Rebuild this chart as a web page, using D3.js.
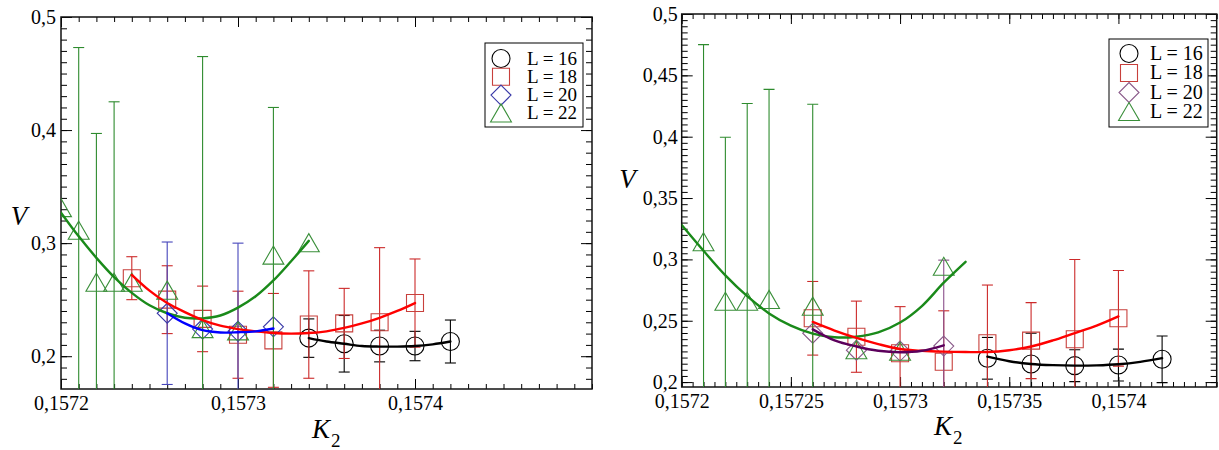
<!DOCTYPE html>
<html><head><meta charset="utf-8">
<script src="https://cdn.jsdelivr.net/npm/d3@7"></script>
<style>
body{margin:0;background:#fff}
svg{display:block}
text{font-family:"Liberation Serif","Times New Roman",serif}
</style>
</head><body>
<svg id="c" width="1219" height="450"></svg>
<script>
// ---------------- DATA ----------------
// Left panel
const leftL16K = [0.15734,0.15736,0.15738,0.1574,0.15742];
const leftL16V = [0.216,0.211,0.209,0.209,0.213];
const leftL16E = [0.017,0.025,0.014,0.013,0.019];

const leftL18K = [0.15724,0.15726,0.15728,0.1573,0.15732,0.15734,0.15736,0.15738,0.1574];
const leftL18V = [0.269,0.250,0.233,0.219,0.214,0.228,0.229,0.230,0.247];
const leftL18E = [0.019,0.030,0.029,0.0385,0.0415,0.0475,0.031,0.066,0.039];

const leftL20K = [0.15726,0.15728,0.1573,0.15732];
const leftL20V = [0.238,0.224,0.222,0.226];
const leftL20E = [0.063,0,0.078,0];

const leftL22K = [0.1572,0.15721,0.15722,0.15723,0.15724,0.15726,0.15728,0.1573,0.15732,0.15734];
const leftL22V = [0.331,0.311,0.265,0.265,0.265,0.258,0.224,0.222,0.289,0.300];
const leftL22E = [0,0.162,0.132,0.16,0,0,0.241,0,0.131,0];

const leftFit22K = [0.1572,0.15721,0.15722,0.15723,0.15724,0.15725,0.15726,0.15727,0.15728,0.15729,0.1573,0.15731,0.15732,0.15733,0.15734];
const leftFit22V = [0.327,0.306,0.287,0.270,0.256,0.245,0.238,0.234,0.2335,0.236,0.243,0.253,0.267,0.284,0.302];
const leftFit18K = [0.15724,0.15725,0.15726,0.15727,0.15728,0.15729,0.1573,0.15731,0.15732,0.15733,0.15734,0.15735,0.15736,0.15737,0.15738,0.15739,0.1574];
const leftFit18V = [0.272,0.258,0.247,0.239,0.232,0.227,0.224,0.222,0.2205,0.220,0.2205,0.222,0.225,0.229,0.234,0.240,0.247];
const leftFit20K = [0.15726,0.15727,0.15728,0.15729,0.1573,0.15731,0.15732];
const leftFit20V = [0.238,0.229,0.223,0.221,0.2212,0.222,0.2245];
const leftFit16K = [0.15734,0.15735,0.15736,0.15737,0.15738,0.15739,0.1574,0.15741,0.15742];
const leftFit16V = [0.216,0.213,0.211,0.209,0.2085,0.2085,0.209,0.2105,0.213];

// Right panel
const rightL16K = [0.15734,0.15736,0.15738,0.1574,0.15742];
const rightL16V = [0.2194,0.2148,0.2134,0.2139,0.2186];
const rightL16E = [0.017,0.025,0.013,0.013,0.019];

const rightL18K = [0.15726,0.15728,0.1573,0.15732,0.15734,0.15736,0.15738,0.1574];
const rightL18V = [0.252,0.237,0.2235,0.2166,0.2316,0.2338,0.2349,0.252];
const rightL18E = [0.030,0.029,0.038,0.0415,0.0475,0.031,0.065,0.039];

const rightL20K = [0.15726,0.15728,0.1573,0.15732];
const rightL20V = [0.2398,0.226,0.2253,0.2294];
const rightL20E = [0,0,0,0.07];

const rightL22K = [0.15721,0.15722,0.15723,0.15724,0.15726,0.15728,0.1573,0.15732];
const rightL22V = [0.314,0.2655,0.2655,0.267,0.2615,0.226,0.2248,0.294];
const rightL22E = [0.161,0.134,0.1615,0.1716,0.165,0,0,0];

const rightFit22K = [0.1572,0.15721,0.15722,0.15723,0.15724,0.15725,0.15726,0.15727,0.15728,0.15729,0.1573,0.15731,0.15732,0.15733];
const rightFit22V = [0.328,0.307,0.287,0.270,0.256,0.246,0.2395,0.2365,0.237,0.2405,0.2485,0.262,0.281,0.298];
const rightFit18K = [0.15726,0.15727,0.15728,0.15729,0.1573,0.15731,0.15732,0.15733,0.15734,0.15735,0.15736,0.15737,0.15738,0.15739,0.1574];
const rightFit18V = [0.249,0.242,0.236,0.231,0.227,0.2255,0.2248,0.2245,0.2245,0.226,0.229,0.234,0.240,0.246,0.2535];
const rightFit20K = [0.15726,0.15727,0.15728,0.15729,0.1573,0.15731,0.15732];
const rightFit20V = [0.243,0.234,0.229,0.2255,0.2243,0.2255,0.230];
const rightFit16K = [0.15734,0.15735,0.15736,0.15737,0.15738,0.15739,0.1574,0.15741,0.15742];
const rightFit16V = [0.2207,0.217,0.2148,0.2138,0.2134,0.2136,0.2145,0.2165,0.2195];

// Ticks and labels
const leftXTicks = [0.1572,0.1573,0.1574];
const leftXLabels = ["0,1572","0,1573","0,1574"];
const leftYTicks = [0.2,0.3,0.4,0.5];
const leftYLabels = ["0,2","0,3","0,4","0,5"];
const rightXTicks = [0.1572,0.15725,0.1573,0.15735,0.1574];
const rightXLabels = ["0,1572","0,15725","0,1573","0,15735","0,1574"];
const rightYTicks = [0.2,0.25,0.3,0.35,0.4,0.45,0.5];
const rightYLabels = ["0,2","0,25","0,3","0,35","0,4","0,45","0,5"];
const legendLabels = ["L = 16","L = 18","L = 20","L = 22"];

// ---------------- DRAWING ----------------
const svg = d3.select('#c');

function symPath(type, s) {
  if (type === 'circle') return `M${s},0A${s},${s} 0 1,1 ${-s},0A${s},${s} 0 1,1 ${s},0Z`;
  if (type === 'square') return `M${-s},${-s}H${s}V${s}H${-s}Z`;
  if (type === 'diamond') return `M0,${-s}L${s},0L0,${s}L${-s},0Z`;
  if (type === 'triangle') return `M0,${-s}L${s*1.1},${s*0.9}L${-s*1.1},${s*0.9}Z`;
}
const symSize = {circle:9, square:8.5, diamond:10, triangle:9.5};

function zip(K, V, E) { return K.map((k,i)=>({k, v:V[i], e:E?E[i]:0})); }

function drawPanel(cfg, idx) {
  const x = d3.scaleLinear().domain(cfg.xDomain).range([cfg.x0, cfg.x1]);
  const y = d3.scaleLinear().domain(cfg.yDomain).range([cfg.y1, cfg.y0]);
  const g = svg.append('g');
  const clipId = 'clip' + idx;
  svg.append('clipPath').attr('id', clipId).append('rect')
    .attr('x', cfg.x0).attr('y', cfg.y0).attr('width', cfg.x1 - cfg.x0).attr('height', cfg.y1 - cfg.y0);

  const xMinor = d3.range(0, Math.round((cfg.xDomain[1]-cfg.xDomain[0])/cfg.xMinorStep)+1)
    .map(i => cfg.xDomain[0] + i*cfg.xMinorStep).filter(v => v <= cfg.xDomain[1] + 1e-12);
  const yMinorAll = d3.range(Math.ceil(cfg.yDomain[0]/cfg.yMinorStep - 1e-6), Math.floor(cfg.yDomain[1]/cfg.yMinorStep + 1e-6)+1)
    .map(i => i*cfg.yMinorStep);

  function styleAxis(sel) {
    sel.select('.domain').remove();
    sel.attr('font-family', null).attr('font-size', null);
    sel.selectAll('line').attr('stroke', '#000').attr('stroke-width', 1);
    sel.selectAll('text').attr('font-size', 20).attr('fill', '#000');
  }
  const xLabMap = new Map(cfg.xTicks.map((t,i)=>[t, cfg.xLabels[i]]));
  const yLabMap = new Map(cfg.yTicks.map((t,i)=>[t, cfg.yLabels[i]]));

  g.append('g').attr('transform', `translate(0,${cfg.y1})`)
    .call(d3.axisBottom(x).tickValues(xMinor).tickSize(-5).tickFormat('')).call(styleAxis);
  g.append('g').attr('transform', `translate(0,${cfg.y1})`)
    .call(d3.axisBottom(x).tickValues(cfg.xTicks).tickSize(-10).tickPadding(7).tickFormat(d => xLabMap.get(d))).call(styleAxis);
  g.append('g').attr('transform', `translate(0,${cfg.y0})`)
    .call(d3.axisTop(x).tickValues(xMinor).tickSize(-5).tickFormat('')).call(styleAxis);
  g.append('g').attr('transform', `translate(0,${cfg.y0})`)
    .call(d3.axisTop(x).tickValues(cfg.xTicks).tickSize(-10).tickFormat('')).call(styleAxis);
  g.append('g').attr('transform', `translate(${cfg.x0},0)`)
    .call(d3.axisLeft(y).tickValues(yMinorAll).tickSize(-6).tickFormat('')).call(styleAxis);
  g.append('g').attr('transform', `translate(${cfg.x0},0)`)
    .call(d3.axisLeft(y).tickValues(cfg.yTicks).tickSize(-11).tickPadding(cfg.yPad).tickFormat(d => yLabMap.get(d))).call(styleAxis);
  g.append('g').attr('transform', `translate(${cfg.x1},0)`)
    .call(d3.axisRight(y).tickValues(yMinorAll).tickSize(-6).tickFormat('')).call(styleAxis);
  g.append('g').attr('transform', `translate(${cfg.x1},0)`)
    .call(d3.axisRight(y).tickValues(cfg.yTicks).tickSize(-11).tickFormat('')).call(styleAxis);

  g.append('rect').attr('x', cfg.x0).attr('y', cfg.y0)
    .attr('width', cfg.x1 - cfg.x0).attr('height', cfg.y1 - cfg.y0)
    .attr('fill', 'none').attr('stroke', '#111').attr('stroke-width', 1.5);

  const plot = g.append('g').attr('clip-path', `url(#${clipId})`);

  cfg.series.forEach(s => {
    const pts = zip(s.K, s.V, s.E);
    const eg = plot.append('g').attr('stroke', s.errColor).attr('stroke-width', 1.1).attr('fill', 'none');
    pts.filter(p => p.e > 0).forEach(p => {
      const px = x(p.k), yt = y(p.v + p.e), yb = y(p.v - p.e);
      eg.append('line').attr('x1', px).attr('x2', px).attr('y1', yt).attr('y2', yb);
      eg.append('line').attr('x1', px - 5.5).attr('x2', px + 5.5).attr('y1', yt).attr('y2', yt);
      eg.append('line').attr('x1', px - 5.5).attr('x2', px + 5.5).attr('y1', yb).attr('y2', yb);
    });
    plot.append('g').selectAll('path').data(pts).join('path')
      .attr('d', symPath(s.sym, symSize[s.sym]))
      .attr('transform', p => `translate(${x(p.k)},${y(p.v)})`)
      .attr('fill', 'none').attr('stroke', s.symColor).attr('stroke-width', 1.1);
  });

  const line = d3.line().x(p => x(p.k)).y(p => y(p.v)).curve(d3.curveCatmullRom);
  cfg.fits.forEach(f => {
    plot.append('path').datum(zip(f.K, f.V)).attr('d', line)
      .attr('fill', 'none').attr('stroke', f.color).attr('stroke-width', 2.4)
      .attr('stroke-linejoin', 'round').attr('stroke-linecap', 'round');
  });

  const L = cfg.legend;
  const lg = g.append('g');
  lg.append('rect').attr('x', L.x).attr('y', L.y).attr('width', L.w).attr('height', L.h)
    .attr('fill', '#fff').attr('stroke', '#000').attr('stroke-width', 1);
  cfg.series.forEach((s, i) => {
    const cy = L.y + L.first + i * L.step;
    lg.append('path').attr('d', symPath(s.sym, symSize[s.sym]))
      .attr('transform', `translate(${L.sx},${cy})`)
      .attr('fill', 'none').attr('stroke', s.symColor).attr('stroke-width', 1.1);
    lg.append('text').attr('x', L.tx).attr('y', cy + 6).attr('font-size', L.fs).attr('fill', '#000')
      .text(legendLabels[i]);
  });

  g.append('text').attr('x', cfg.vx).attr('y', cfg.vy).attr('text-anchor', 'middle')
    .attr('font-size', 27).attr('font-style', 'italic').text('V');
  const kt = g.append('text').attr('x', cfg.kx).attr('y', cfg.ky).attr('font-size', 27);
  kt.append('tspan').attr('font-style', 'italic').text('K');
  kt.append('tspan').attr('font-size', 19).attr('dy', 9).attr('dx', 1).text('2');
}

const colors = {
  black: '#000', redSym: '#c8403c', redErr: '#cc2a2a', red: '#ff0000',
  blueSym: '#3a3aa8', blueErr: '#4545bb', blue: '#0000ff',
  purpleSym: '#8a5a8a', purpleErr: '#8a4f8a', purple: '#5c005c',
  greenSym: '#3a8f3a', greenErr: '#2e8b2e', green: '#1a8a1a'
};

drawPanel({
  x0: 61, x1: 592, y0: 17, y1: 389,
  xDomain: [0.1572, 0.1575], yDomain: [0.171, 0.5],
  xMinorStep: 0.00001, yMinorStep: 0.01,
  xTicks: leftXTicks, xLabels: leftXLabels, yTicks: leftYTicks, yLabels: leftYLabels, yPad: 5,
  series: [
    {K: leftL16K, V: leftL16V, E: leftL16E, sym: 'circle', symColor: colors.black, errColor: colors.black},
    {K: leftL18K, V: leftL18V, E: leftL18E, sym: 'square', symColor: colors.redSym, errColor: colors.redErr},
    {K: leftL20K, V: leftL20V, E: leftL20E, sym: 'diamond', symColor: colors.blueSym, errColor: colors.blueErr},
    {K: leftL22K, V: leftL22V, E: leftL22E, sym: 'triangle', symColor: colors.greenSym, errColor: colors.greenErr}
  ],
  fits: [
    {K: leftFit22K, V: leftFit22V, color: colors.green},
    {K: leftFit18K, V: leftFit18V, color: colors.red},
    {K: leftFit20K, V: leftFit20V, color: colors.blue},
    {K: leftFit16K, V: leftFit16V, color: colors.black}
  ],
  legend: {x: 485, y: 43, w: 98, h: 84, first: 15.5, step: 18.3, sx: 501, tx: 527, fs: 19},
  vx: 19, vy: 225, kx: 312, ky: 438
}, 0);

drawPanel({
  x0: 681.7, x1: 1216.7, y0: 14, y1: 387,
  xDomain: [0.1572, 0.157445], yDomain: [0.196, 0.5],
  xMinorStep: 0.000005, yMinorStep: 0.005,
  xTicks: rightXTicks, xLabels: rightXLabels, yTicks: rightYTicks, yLabels: rightYLabels, yPad: 4,
  series: [
    {K: rightL16K, V: rightL16V, E: rightL16E, sym: 'circle', symColor: colors.black, errColor: colors.black},
    {K: rightL18K, V: rightL18V, E: rightL18E, sym: 'square', symColor: colors.redSym, errColor: colors.redErr},
    {K: rightL20K, V: rightL20V, E: rightL20E, sym: 'diamond', symColor: colors.purpleSym, errColor: colors.purpleErr},
    {K: rightL22K, V: rightL22V, E: rightL22E, sym: 'triangle', symColor: colors.greenSym, errColor: colors.greenErr}
  ],
  fits: [
    {K: rightFit22K, V: rightFit22V, color: colors.green},
    {K: rightFit18K, V: rightFit18V, color: colors.red},
    {K: rightFit20K, V: rightFit20V, color: colors.purple},
    {K: rightFit16K, V: rightFit16V, color: colors.black}
  ],
  legend: {x: 1109, y: 39, w: 99, h: 88, first: 14.5, step: 19.5, sx: 1129, tx: 1150, fs: 20},
  vx: 627.5, vy: 188, kx: 934, ky: 435
}, 1);
</script>
</body></html>
